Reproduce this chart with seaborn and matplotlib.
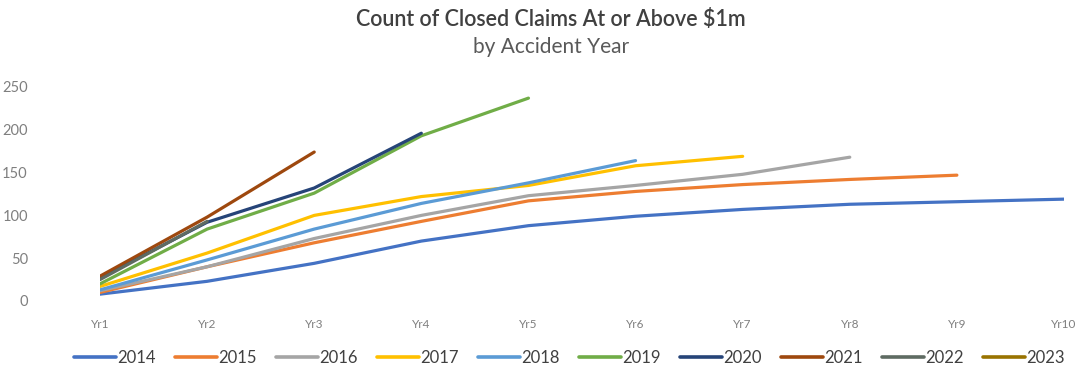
import matplotlib
matplotlib.use("Agg")
import matplotlib.pyplot as plt
import seaborn as sns
import pandas as pd
from matplotlib.lines import Line2D

# ---- data ----
periods = ["Yr1", "Yr2", "Yr3", "Yr4", "Yr5", "Yr6", "Yr7", "Yr8", "Yr9", "Yr10"]
years = ["2014", "2015", "2016", "2017", "2018", "2019", "2020", "2021", "2022", "2023"]
s2014 = [8, 23, 44, 70, 88, 99, 107, 113, 116, 119]
s2015 = [10, 40, 68, 93, 117, 128, 136, 142, 147]
s2016 = [12, 40, 73, 100, 123, 135, 148, 168]
s2017 = [17, 56, 100, 122, 135, 158, 169]
s2018 = [13, 48, 84, 114, 138, 164]
s2019 = [20, 84, 126, 193, 237]
s2020 = [27, 92, 132, 196]
s2021 = [29, 98, 174]
s2022 = [25, 93]
s2023 = [20]
series = [s2014, s2015, s2016, s2017, s2018, s2019, s2020, s2021, s2022, s2023]
colors = ["#4472C4", "#ED7D31", "#A5A5A5", "#FFC000", "#5B9BD5",
          "#70AD47", "#264478", "#9E480E", "#5E6B62", "#997300"]

rows = []
for y, vals in zip(years, series):
    for i, v in enumerate(vals):
        rows.append({"Year": y, "Period": i, "Count": v})
df = pd.DataFrame(rows)

sns.set_theme(style="white")
plt.rcParams["font.family"] = ["Lato", "DejaVu Sans"]

fig = plt.figure(figsize=(10.83, 3.73), dpi=100)
ax = fig.add_axes([100 / 1083, 1 - 301 / 373, (1064 - 100) / 1083, (301 - 87) / 373])

palette = dict(zip(years, colors))
sns.lineplot(data=df, x="Period", y="Count", hue="Year", hue_order=years,
             palette=palette, linewidth=2.3, ax=ax, legend=False,
             estimator=None, sort=False)

ax.set_xlim(0, 9)
ax.set_ylim(0, 250)
ax.set_xticks(range(len(periods)))
ax.set_xticklabels(periods)
ax.set_yticks([0, 50, 100, 150, 200, 250])
ax.set_xlabel("")
ax.set_ylabel("")
for s in ax.spines.values():
    s.set_visible(False)
ax.grid(False)
ax.tick_params(axis="y", labelsize=10.5, colors="#7f7f7f", pad=52, length=0)
ax.tick_params(axis="x", labelsize=8.5, colors="#7f7f7f", pad=13, length=0)

fig.text(0.509, 1 - 19 / 373, "Count of Closed Claims At or Above $1m",
         ha="center", va="center", fontsize=15.5, color="#404040", fontweight="semibold")
fig.text(0.509, 1 - 47 / 373, "by Accident Year",
         ha="center", va="center", fontsize=15, color="#595959")

handles = [Line2D([0], [0], color=c, lw=2.6) for c in colors]
leg = fig.legend(handles, years, loc="center", bbox_to_anchor=(0.526, 1 - 358 / 373),
                 ncol=10, frameon=False, fontsize=12, handlelength=2.5,
                 handletextpad=0.1, columnspacing=1.15)
for t in leg.get_texts():
    t.set_color("#404040")

fig.savefig("out.png", dpi=100)
